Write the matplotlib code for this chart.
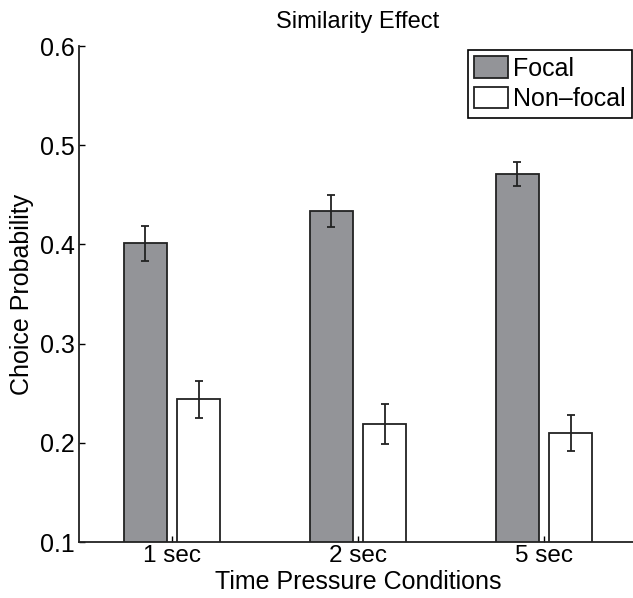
import matplotlib
matplotlib.use("Agg")
import matplotlib.pyplot as plt
import numpy as np

conditions = ["1 sec", "2 sec", "5 sec"]
focal = [0.401, 0.434, 0.471]
focal_err = [0.018, 0.016, 0.0125]
nonfocal = [0.244, 0.219, 0.210]
nonfocal_err = [0.0185, 0.020, 0.0185]
yticks = [0.1, 0.2, 0.3, 0.4, 0.5, 0.6]

plt.rcParams['font.family'] = ['Liberation Sans', 'DejaVu Sans']
plt.rcParams['font.size'] = 18

fig = plt.figure(figsize=(6.33, 5.98), dpi=100)
ax = fig.add_axes([79 / 633, 56 / 598, 558 / 633, 496 / 598])

x = np.arange(1, len(conditions) + 1)
w = 0.231
off = 0.1425
ekw = dict(ecolor="#222222", elinewidth=1.3, capsize=3, capthick=1.3)

ax.bar(x - off, focal, w, bottom=0, color="#939498", edgecolor="#222222",
       linewidth=1.3, label="Focal", zorder=2)
ax.bar(x + off, nonfocal, w, bottom=0, color="white", edgecolor="#222222",
       linewidth=1.3, label="Non–focal", zorder=2)
ax.errorbar(x - off, focal, yerr=focal_err, fmt="none", zorder=3, **ekw)
ax.errorbar(x + off, nonfocal, yerr=nonfocal_err, fmt="none", zorder=3, **ekw)

ax.set_xlim(0.5, 3.5)
ax.set_ylim(0.1, 0.6)
ax.set_xticks(x)
ax.set_xticklabels(conditions)
ax.set_yticks(yticks)
ax.set_yticklabels([f"{t:.1f}" for t in yticks])
ax.tick_params(direction="in", length=4, width=1, pad=3, labelsize=18)
ax.tick_params(axis="x", pad=2, labelsize=17.5)

for s in ["top", "right"]:
    ax.spines[s].set_visible(False)
for s in ["left", "bottom"]:
    ax.spines[s].set_linewidth(1.3)
    ax.spines[s].set_color("#222222")

ax.set_title("Similarity Effect", fontsize=17, pad=13)
ax.set_xlabel("Time Pressure Conditions", fontsize=18)
ax.xaxis.set_label_coords(0.5, -0.081)
ax.xaxis.label.set_va("center")
ax.set_ylabel("Choice Probability", fontsize=18)
ax.yaxis.set_label_coords(-0.102, 0.5)
ax.yaxis.label.set_va("center")

leg = ax.legend(loc="upper right", bbox_to_anchor=(632 / 633, 1 - 50 / 598),
                bbox_transform=fig.transFigure, fancybox=False, framealpha=1,
                edgecolor="black", fontsize=18, handlelength=1.35,
                handleheight=0.95, handletextpad=0.2, borderpad=0.25,
                labelspacing=0.25, borderaxespad=0)
leg.get_frame().set_linewidth(1.2)

fig.savefig("out.png", dpi=100)
